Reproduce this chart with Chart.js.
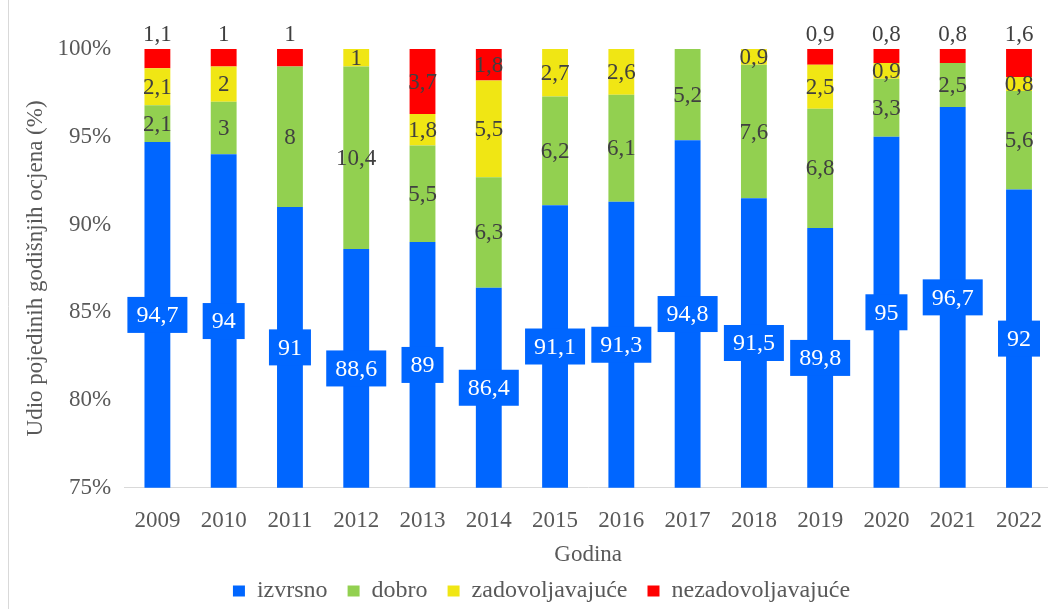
<!DOCTYPE html>
<html>
<head>
<meta charset="utf-8">
<script src="https://cdn.jsdelivr.net/npm/chart.js@4"></script>
<style>
  body { margin: 0; overflow: hidden; background: #fff; }
  #wrap { position: relative; width: 1061px; height: 613px; }
</style>
</head>
<body>
<div id="wrap"><canvas id="chart"></canvas></div>
<script>
const years = ['2009','2010','2011','2012','2013','2014','2015','2016','2017','2018','2019','2020','2021','2022'];
const izvrsno = [94.7, 94, 91, 88.6, 89, 86.4, 91.1, 91.3, 94.8, 91.5, 89.8, 95, 96.7, 92];
const dobro = [2.1, 3, 8, 10.4, 5.5, 6.3, 6.2, 6.1, 5.2, 7.6, 6.8, 3.3, 2.5, 5.6];
const zadovoljavajuce = [2.1, 2, 0, 1, 1.8, 5.5, 2.7, 2.6, 0, 0.9, 2.5, 0.9, 0, 0.8];
const nezadovoljavajuce = [1.1, 1, 1, 0, 3.7, 1.8, 0, 0, 0, 0, 0.9, 0.8, 0.8, 1.6];

const font = 'Liberation Serif';
Chart.defaults.font.family = font;
Chart.defaults.font.size = 23;
Chart.defaults.color = '#595959';

// labels: first series in a blue box, small red ones above the bar
const labelPlugin = {
    id: 'labels',
    afterDatasetsDraw(chart) {
        const ctx = chart.ctx;
        const area = chart.chartArea;
        ctx.save();
        ctx.textAlign = 'center';
        ctx.textBaseline = 'middle';
        chart.data.datasets.forEach((ds, i) => {
            const meta = chart.getDatasetMeta(i);
            ds.data.forEach((v, j) => {
                if (!v) return;
                const el = meta.data[j];
                const bottom = Math.min(el.base, area.bottom);
                let y = (el.y + bottom) / 2;
                const txt = String(v).replace('.', ',');
                if (i === 0) {
                    ctx.font = '24px ' + font;
                    const w = ctx.measureText(txt).width + 18;
                    ctx.fillStyle = '#0066ff';
                    ctx.fillRect(el.x - w / 2, y - 18, w, 36);
                    ctx.fillStyle = '#ffffff';
                    ctx.fillText(txt, el.x, y + 1);
                    return;
                }
                if (i === 3 && v < 1.7) y = area.top - 15;
                ctx.font = '23px ' + font;
                ctx.fillStyle = '#404040';
                ctx.fillText(txt, el.x, y + 1);
            });
        });
        ctx.restore();
    }
};

const borderPlugin = {
    id: 'leftBorder',
    beforeDraw(chart) {
        const ctx = chart.ctx;
        ctx.save();
        ctx.strokeStyle = '#d9d9d9';
        ctx.lineWidth = 1;
        ctx.beginPath();
        ctx.moveTo(8.5, 0);
        ctx.lineTo(8.5, chart.height);
        ctx.stroke();
        ctx.restore();
    }
};

new Chart(document.getElementById('chart'), {
    type: 'bar',
    data: {
        labels: years,
        datasets: [
            { label: 'izvrsno', data: izvrsno, backgroundColor: '#0066ff' },
            { label: 'dobro', data: dobro, backgroundColor: '#92d050' },
            { label: 'zadovoljavajuće', data: zadovoljavajuce, backgroundColor: '#f0e614' },
            { label: 'nezadovoljavajuće', data: nezadovoljavajuce, backgroundColor: '#ff0000' }
        ]
    },
    options: {
        responsive: true,
        maintainAspectRatio: false,
        animation: false,
        datasets: { bar: { categoryPercentage: 1, barPercentage: 0.39 } },
        layout: { padding: { top: 49, left: 22, right: 0, bottom: 0 } },
        plugins: {
            legend: {
                position: 'bottom',
                labels: {
                    font: { family: font, size: 24 },
                    color: '#595959',
                    boxWidth: 12,
                    boxHeight: 11,
                    padding: 20
                }
            },
            tooltip: { enabled: false }
        },
        scales: {
            x: {
                stacked: true,
                grid: { display: false, drawTicks: false },
                border: { color: '#d9d9d9', width: 1 },
                ticks: { font: { family: font, size: 23 }, color: '#595959', padding: 19 },
                title: { display: true, text: 'Godina', font: { family: font, size: 23 }, color: '#595959', padding: { top: -12, bottom: -10 } }
            },
            y: {
                stacked: true,
                min: 75,
                max: 100,
                grid: { display: false, drawTicks: false },
                border: { display: false },
                ticks: {
                    stepSize: 5,
                    font: { family: font, size: 23 },
                    color: '#595959',
                    padding: 13,
                    callback: v => v + '%'
                },
                title: { display: true, text: 'Udio pojedinih godišnjih ocjena (%)', font: { family: font, size: 23 }, color: '#595959', padding: { top: 0, bottom: -5 } }
            }
        }
    },
    plugins: [labelPlugin, borderPlugin]
});
</script>
</body>
</html>
